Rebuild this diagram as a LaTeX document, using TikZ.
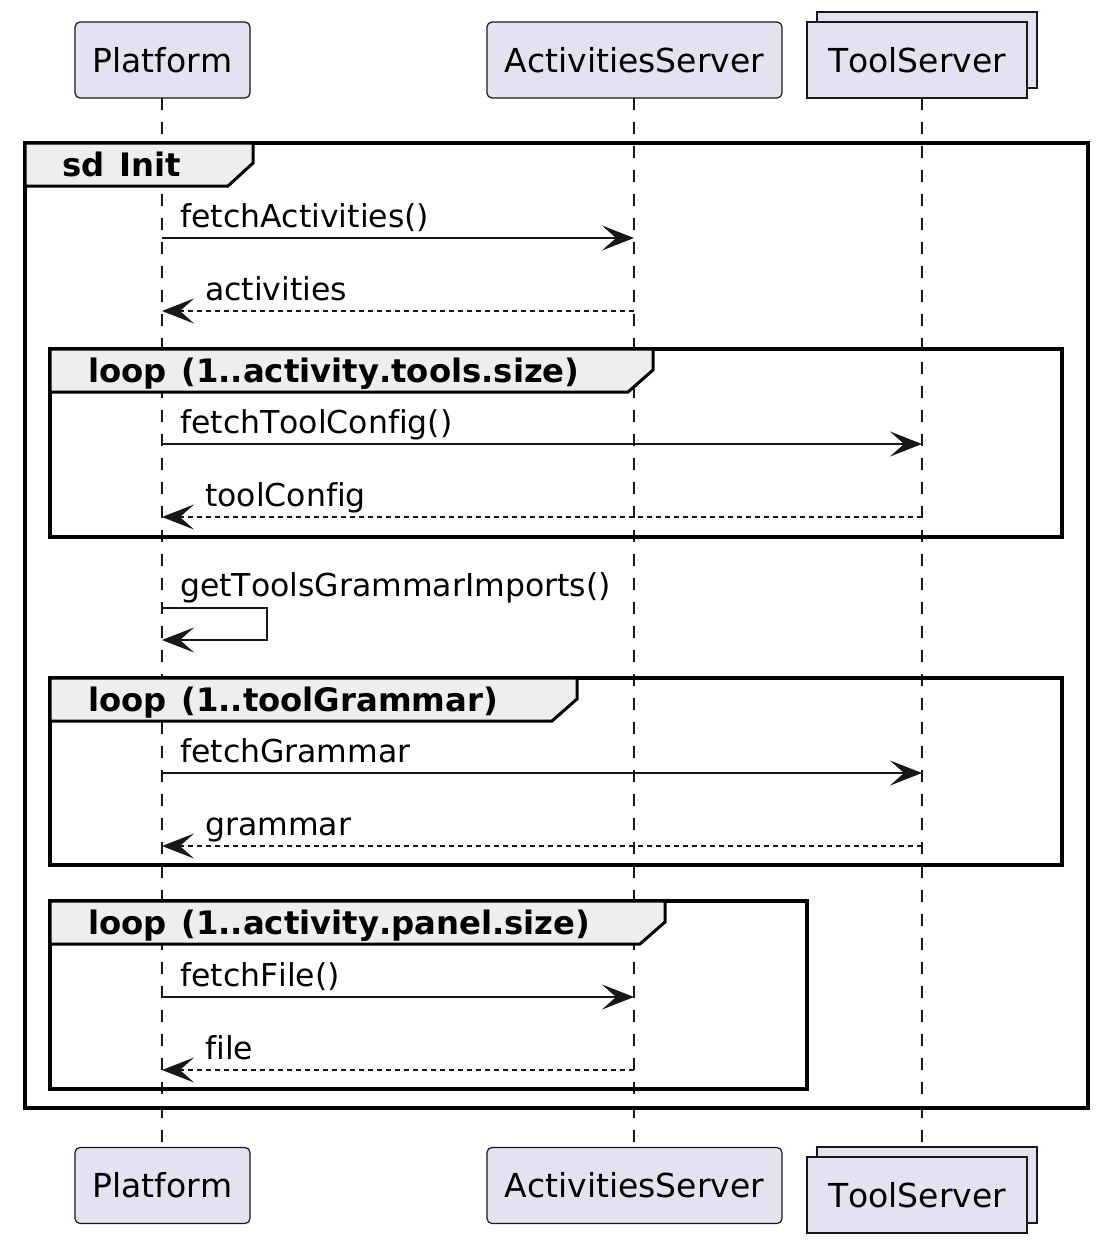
\documentclass[tikz,border=0pt]{standalone}
\usepackage{fontspec}
\setmainfont{DejaVu Sans}[Ligatures=NoCommon, Kerning=Off]
\usetikzlibrary{arrows.meta}
\definecolor{linec}{HTML}{181818}
\definecolor{partfill}{HTML}{E2E2F0}
\definecolor{tabfill}{HTML}{EEEEEE}
\begin{document}
\begin{tikzpicture}[x=1pt,y=-1pt,
  part/.style={draw=linec, fill=partfill, line width=1.2pt, minimum height=76pt, inner sep=0pt, font=\fontsize{33}{40}\selectfont},
  rpart/.style={part, rounded corners=5pt},
  life/.style={draw=linec, line width=1.2pt, dash pattern=on 12pt off 12pt},
  msg/.style={draw=linec, line width=2.2pt, -{Stealth[length=32pt,width=25pt,inset=14pt]}},
  ret/.style={msg, dash pattern=on 5pt off 4pt},
  frm/.style={draw=black, line width=3.6pt},
  tabs/.style={draw=black, line width=3pt, fill=tabfill, line join=miter},
  lbl/.style={anchor=base west, inner sep=0pt, font=\fontsize{31.5}{38}\selectfont},
  flbl/.style={anchor=base west, inner sep=0pt, font=\fontsize{32.3}{38}\selectfont\bfseries},
]
\useasboundingbox (0,0) rectangle (1100,1245);

% participants top
\node[rpart, minimum width=175pt] (pfT) at (162.5,60) {Platform};
\node[rpart, minimum width=295pt] (asT) at (634.5,60) {ActivitiesServer};
\node[part, minimum width=220pt] (tsTb) at (927,50) {};
\node[part, minimum width=220pt] (tsT) at (917,60) {ToolServer};
% participants bottom
\node[rpart, minimum width=175pt] (pfB) at (162.5,1185.5) {Platform};
\node[rpart, minimum width=295pt] (asB) at (634.5,1185.5) {ActivitiesServer};
\node[part, minimum width=220pt] (tsBb) at (927,1185) {};
\node[part, minimum width=220pt] (tsB) at (917,1195) {ToolServer};

% lifelines
\coordinate (pf) at (162,98);
\coordinate (as) at (634,98);
\coordinate (ts) at (922,98);
\draw[life] (pf) -- (pf |- pfB.north);
\draw[life] (as) -- (as |- asB.north);
\draw[life] (ts) -- (ts |- tsBb.north);

% sd Init frame
\draw[frm] (25,143) rectangle (1088,1108);
\draw[tabs] (25,143) -- (253,143) -- (253,163) -- (228,186) -- (25,186) -- cycle;
\node[flbl] (sdl) at (62,176) {sd\hspace{0.45em}Init};

% loop 1
\draw[frm] (50,349) rectangle (1062,537);
\draw[tabs] (50,349) -- (653,349) -- (653,370) -- (628,392) -- (50,392) -- cycle;
\node[flbl] (l1) at (88,382) {loop\hspace{0.45em}(1..activity.tools.size)};

% loop 2
\draw[frm] (50,678) rectangle (1062,865);
\draw[tabs] (50,678) -- (577,678) -- (577,699) -- (552,721) -- (50,721) -- cycle;
\node[flbl] (l2) at (88,711) {loop\hspace{0.45em}(1..toolGrammar)};

% loop 3
\draw[frm] (50,901) rectangle (807,1089);
\draw[tabs] (50,901) -- (665,901) -- (665,922) -- (640,944) -- (50,944) -- cycle;
\node[flbl] (l3) at (88,934) {loop\hspace{0.45em}(1..activity.panel.size)};

% messages
\draw[msg] (pf |- 0,238) -- (as |- 0,238);
\node[lbl] (m1) at (180,227) {fetchActivities()};
\draw[ret] (as |- 0,311) -- (pf |- 0,311);
\node[lbl] (m2) at (205,300) {activities};

\draw[msg] (pf |- 0,444) -- (ts |- 0,444);
\node[lbl] (m3) at (180,433) {fetchToolConfig()};
\draw[ret] (ts |- 0,517) -- (pf |- 0,517);
\node[lbl] (m4) at (205,506) {toolConfig};

\coordinate (sA) at (267,608);
\coordinate (sB) at (267,640);
\draw[msg] (pf |- sA) -- (sA) -- (sB) -- (pf |- sB);
\node[lbl] (m5) at (180,596) {getToolsGrammarImports()};

\draw[msg] (pf |- 0,773) -- (ts |- 0,773);
\node[lbl] (m6) at (180,762) {fetchGrammar};
\draw[ret] (ts |- 0,846) -- (pf |- 0,846);
\node[lbl] (m7) at (205,835) {grammar};

\draw[msg] (pf |- 0,997) -- (as |- 0,997);
\node[lbl] (m8) at (180,986) {fetchFile()};
\draw[ret] (as |- 0,1070) -- (pf |- 0,1070);
\node[lbl] (m9) at (205,1059) {file};
\end{tikzpicture}
\end{document}
